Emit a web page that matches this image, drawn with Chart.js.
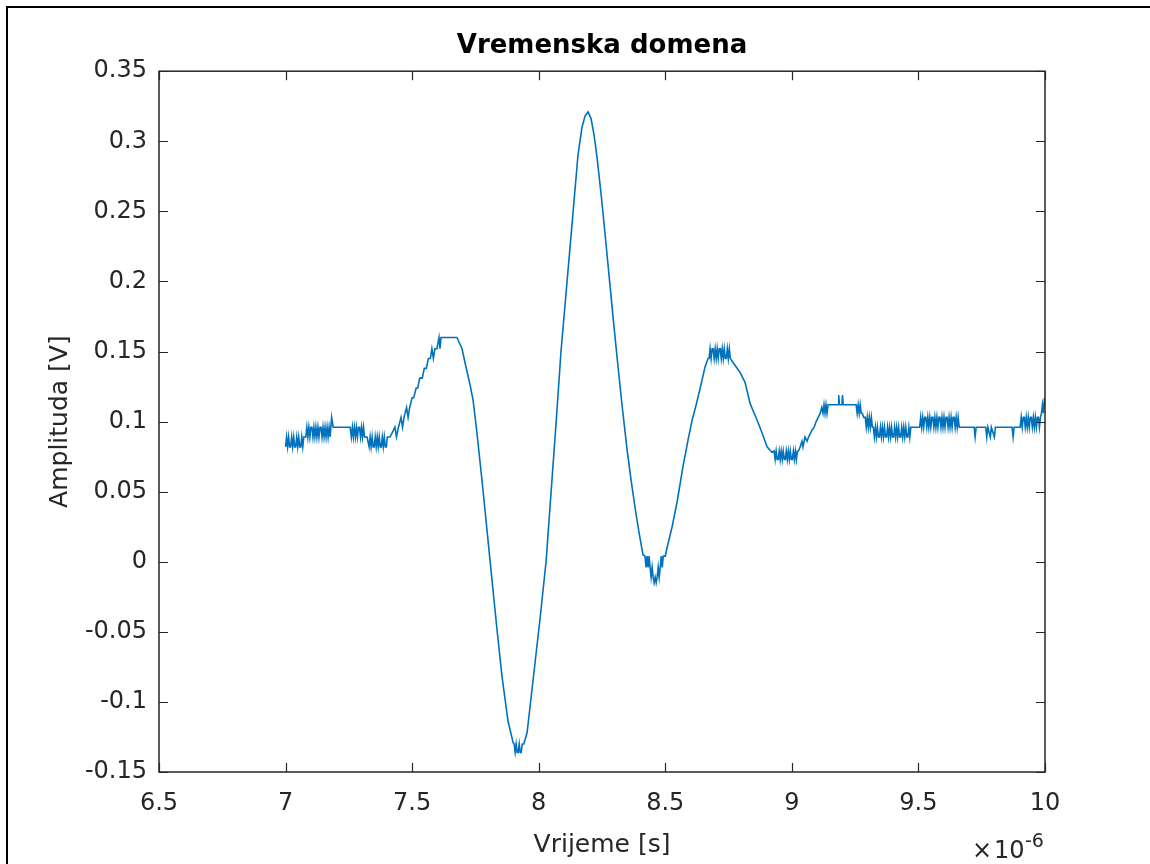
<!DOCTYPE html>
<html>
<head>
<meta charset="utf-8">
<title>Vremenska domena</title>
<script src="https://cdn.jsdelivr.net/npm/chart.js@4.4.0/dist/chart.umd.min.js"></script>
<style>
  html, body { margin: 0; padding: 0; background: #fff; }
  canvas { display: block; }
</style>
</head>
<body>
<canvas id="signal-chart" width="1150" height="864"></canvas>
<script>
// time in microseconds (axis shows x10^-6 s), amplitude in volts
const timeUs = [
  7.000, 7.004, 7.008, 7.012, 7.016, 7.020, 7.024, 7.028, 7.032, 7.036,
  7.040, 7.044, 7.048, 7.052, 7.056, 7.060, 7.064, 7.068, 7.072, 7.076,
  7.080, 7.084, 7.088, 7.092, 7.096, 7.100, 7.104, 7.108, 7.112, 7.116,
  7.120, 7.124, 7.128, 7.132, 7.136, 7.140, 7.144, 7.148, 7.152, 7.156,
  7.160, 7.164, 7.168, 7.172, 7.176, 7.182, 7.188, 7.255,
  7.260, 7.264, 7.268, 7.272, 7.276, 7.280, 7.284, 7.288, 7.292, 7.296,
  7.300, 7.304, 7.308, 7.312, 7.316, 7.322,
  7.330, 7.334, 7.338, 7.342, 7.346, 7.350, 7.354, 7.358, 7.362, 7.366,
  7.370, 7.374, 7.378, 7.382, 7.386, 7.390, 7.394, 7.398, 7.402, 7.406,
  7.413, 7.432, 7.438,
  7.446, 7.456, 7.462, 7.468, 7.478, 7.484, 7.490, 7.500, 7.506, 7.516,
  7.522, 7.530, 7.540, 7.548, 7.556, 7.564, 7.572, 7.578, 7.584, 7.590,
  7.598, 7.606, 7.610, 7.614,
  7.677, 7.697, 7.709, 7.729, 7.741, 7.756, 7.776, 7.796, 7.816, 7.835, 7.855, 7.879, 7.899,
  7.903, 7.907, 7.911, 7.915, 7.919, 7.923, 7.927, 7.931, 7.935, 7.941,
  7.954, 7.978, 8.005, 8.029, 8.049, 8.069, 8.088, 8.112, 8.136, 8.155, 8.171, 8.183,
  8.195, 8.207, 8.219, 8.230, 8.246, 8.262, 8.278, 8.294, 8.310, 8.329, 8.349, 8.365,
  8.381, 8.397, 8.412, 8.420, 8.424, 8.428, 8.432, 8.436, 8.440, 8.444,
  8.448, 8.452, 8.456, 8.460, 8.464, 8.468, 8.472, 8.476, 8.480, 8.484,
  8.488, 8.492, 8.500, 8.507, 8.527, 8.547, 8.570,
  8.590, 8.606, 8.622, 8.638, 8.657, 8.669,
  8.673, 8.677, 8.681, 8.685, 8.689, 8.693, 8.697, 8.701, 8.705, 8.709,
  8.713, 8.717, 8.721, 8.725, 8.729, 8.733, 8.737, 8.741, 8.745, 8.749,
  8.753, 8.757,
  8.768, 8.784, 8.796, 8.815, 8.835, 8.851, 8.863, 8.882, 8.902, 8.922,
  8.930, 8.934, 8.938, 8.942, 8.946, 8.950, 8.954, 8.958, 8.962, 8.966,
  8.970, 8.974, 8.978, 8.982, 8.986, 8.990, 8.994, 8.998, 9.002, 9.006,
  9.010, 9.014, 9.018, 9.022, 9.026,
  9.033, 9.040, 9.044, 9.052, 9.060, 9.066, 9.080, 9.088, 9.096, 9.104, 9.112, 9.118,
  9.123, 9.127, 9.131, 9.135, 9.139, 9.143, 9.147, 9.155, 9.170, 9.183, 9.185, 9.188, 9.198, 9.200, 9.203, 9.228,
  9.254, 9.258, 9.262, 9.266, 9.270, 9.274, 9.278, 9.284, 9.290, 9.294, 9.298, 9.302, 9.306, 9.310, 9.314, 9.318, 9.322,
  9.326, 9.330, 9.334, 9.338, 9.342, 9.346, 9.350, 9.354, 9.358, 9.362,
  9.366, 9.370, 9.374, 9.378, 9.382, 9.386, 9.390, 9.394, 9.398, 9.402,
  9.406, 9.410, 9.414, 9.418, 9.422, 9.426, 9.430, 9.434, 9.438, 9.442,
  9.446, 9.450, 9.454, 9.458, 9.462, 9.466, 9.470, 9.474,
  9.480, 9.505,
  9.509, 9.513, 9.517, 9.521, 9.525, 9.529, 9.533, 9.537, 9.541, 9.545,
  9.549, 9.553, 9.557, 9.561, 9.565, 9.569, 9.573, 9.577, 9.581, 9.585,
  9.589, 9.593, 9.597, 9.601, 9.605, 9.609, 9.613, 9.617, 9.621, 9.625,
  9.629, 9.633, 9.637, 9.641, 9.645, 9.649, 9.653, 9.657, 9.661, 9.665,
  9.672, 9.720, 9.724, 9.728, 9.766, 9.770, 9.774, 9.784, 9.788, 9.800, 9.804, 9.870, 9.874, 9.878, 9.900,
  9.902, 9.906, 9.910, 9.914, 9.918, 9.922, 9.926, 9.930, 9.934, 9.938,
  9.942, 9.946, 9.950, 9.954, 9.958, 9.962, 9.966, 9.970, 9.974, 9.978,
  9.982, 9.986, 9.990, 9.994, 9.998, 10.000
];

const amplitude = [
  0.082, 0.089, 0.082, 0.089, 0.082, 0.082, 0.089, 0.082, 0.089, 0.082,
  0.082, 0.089, 0.082, 0.089, 0.082, 0.082, 0.089, 0.082, 0.089, 0.089,
  0.089, 0.096, 0.089, 0.096, 0.089, 0.096, 0.096, 0.089, 0.096, 0.089,
  0.096, 0.089, 0.096, 0.089, 0.096, 0.096, 0.089, 0.096, 0.089, 0.096,
  0.089, 0.096, 0.089, 0.096, 0.089, 0.103, 0.096, 0.096,
  0.089, 0.096, 0.089, 0.096, 0.089, 0.096, 0.089, 0.096, 0.096, 0.089,
  0.096, 0.089, 0.096, 0.089, 0.089, 0.089,
  0.082, 0.089, 0.082, 0.089, 0.082, 0.082, 0.089, 0.082, 0.089, 0.082,
  0.089, 0.082, 0.082, 0.089, 0.082, 0.089, 0.082, 0.082, 0.089, 0.089,
  0.089, 0.096, 0.089,
  0.096, 0.103, 0.096, 0.103, 0.110, 0.103, 0.110, 0.117, 0.117, 0.124,
  0.124, 0.131, 0.131, 0.138, 0.138, 0.145, 0.145, 0.152, 0.145, 0.152,
  0.152, 0.160, 0.152, 0.160,
  0.160, 0.152, 0.142, 0.126, 0.115, 0.092, 0.058, 0.022, -0.014, -0.048, -0.082, -0.114, -0.129,
  -0.130, -0.136, -0.130, -0.136, -0.136, -0.130, -0.136, -0.136, -0.130, -0.130,
  -0.122, -0.084, -0.041, 0.000, 0.050, 0.100, 0.150, 0.200, 0.250, 0.290, 0.310, 0.318,
  0.321, 0.316, 0.304, 0.289, 0.263, 0.234, 0.204, 0.174, 0.145, 0.112, 0.080, 0.058,
  0.038, 0.020, 0.005, 0.004, -0.004, 0.004, -0.004, 0.004, -0.004, -0.011,
  -0.004, -0.011, -0.015, -0.011, -0.015, -0.011, -0.004, -0.011, -0.004, 0.004,
  -0.004, 0.004, 0.004, 0.010, 0.025, 0.043, 0.068,
  0.087, 0.101, 0.112, 0.124, 0.139, 0.145,
  0.145, 0.152, 0.145, 0.152, 0.152, 0.145, 0.152, 0.145, 0.152, 0.145,
  0.152, 0.152, 0.145, 0.152, 0.145, 0.152, 0.145, 0.145, 0.152, 0.145,
  0.152, 0.145,
  0.142, 0.138, 0.135, 0.128, 0.113, 0.106, 0.101, 0.092, 0.082, 0.078,
  0.079, 0.073, 0.079, 0.073, 0.073, 0.079, 0.073, 0.079, 0.073, 0.079,
  0.073, 0.073, 0.079, 0.073, 0.079, 0.073, 0.079, 0.073, 0.073, 0.079,
  0.073, 0.079, 0.073, 0.079, 0.079,
  0.082, 0.086, 0.082, 0.089, 0.086, 0.089, 0.094, 0.096, 0.100, 0.103, 0.106, 0.110,
  0.106, 0.112, 0.106, 0.112, 0.106, 0.112, 0.112, 0.112, 0.112, 0.112, 0.119, 0.112, 0.112, 0.119, 0.112, 0.112,
  0.112, 0.106, 0.112, 0.106, 0.112, 0.106, 0.106, 0.103, 0.103, 0.096, 0.103, 0.096, 0.103, 0.096, 0.103, 0.096, 0.096,
  0.089, 0.096, 0.089, 0.096, 0.089, 0.089, 0.096, 0.089, 0.096, 0.089,
  0.096, 0.089, 0.089, 0.096, 0.089, 0.096, 0.089, 0.096, 0.089, 0.089,
  0.096, 0.089, 0.096, 0.089, 0.096, 0.089, 0.089, 0.096, 0.089, 0.096,
  0.089, 0.096, 0.089, 0.089, 0.096, 0.089, 0.096, 0.096,
  0.096, 0.096,
  0.103, 0.096, 0.103, 0.096, 0.103, 0.103, 0.096, 0.103, 0.096, 0.103,
  0.096, 0.103, 0.103, 0.096, 0.103, 0.096, 0.103, 0.096, 0.103, 0.103,
  0.096, 0.103, 0.096, 0.103, 0.096, 0.103, 0.103, 0.096, 0.103, 0.096,
  0.103, 0.096, 0.103, 0.103, 0.096, 0.103, 0.096, 0.103, 0.096, 0.096,
  0.096, 0.096, 0.089, 0.096, 0.096, 0.089, 0.096, 0.089, 0.096, 0.089, 0.096, 0.096, 0.089, 0.096, 0.096,
  0.096, 0.103, 0.096, 0.103, 0.103, 0.096, 0.103, 0.096, 0.103, 0.096,
  0.103, 0.103, 0.096, 0.103, 0.096, 0.103, 0.096, 0.103, 0.103, 0.096,
  0.103, 0.106, 0.112, 0.106, 0.117, 0.112
];

const xTickValues = [6.5, 7, 7.5, 8, 8.5, 9, 9.5, 10];
const yTickValues = [-0.15, -0.1, -0.05, 0, 0.05, 0.1, 0.15, 0.2, 0.25, 0.3, 0.35];

const axisColor = '#262626';
const tickLen = 9;

Chart.defaults.font.family = '"DejaVu Sans", sans-serif';

// matlab style: frame round the figure, box round the axes, ticks pointing inward, x10^-6 note
const matlabBox = {
  id: 'matlabBox',
  beforeDraw(chart) {
    const ctx = chart.ctx;
    ctx.save();
    ctx.fillStyle = '#fff';
    ctx.fillRect(0, 0, chart.width, chart.height);
    ctx.fillStyle = '#000';
    ctx.fillRect(6, 6, chart.width - 6, 2);
    ctx.fillRect(6, 6, 2, chart.height - 6);
    ctx.restore();
  },
  afterDraw(chart) {
    const {ctx, chartArea: a, scales} = chart;
    ctx.save();
    ctx.strokeStyle = axisColor;
    ctx.lineWidth = 1.5;
    ctx.strokeRect(a.left, a.top, a.right - a.left, a.bottom - a.top);

    ctx.beginPath();
    scales.x.ticks.forEach(t => {
      const px = Math.round(scales.x.getPixelForValue(t.value)) + 0.5;
      ctx.moveTo(px, a.bottom); ctx.lineTo(px, a.bottom - tickLen);
      ctx.moveTo(px, a.top); ctx.lineTo(px, a.top + tickLen);
    });
    scales.y.ticks.forEach(t => {
      const py = Math.round(scales.y.getPixelForValue(t.value)) + 0.5;
      ctx.moveTo(a.left, py); ctx.lineTo(a.left + tickLen, py);
      ctx.moveTo(a.right, py); ctx.lineTo(a.right - tickLen, py);
    });
    ctx.lineWidth = 1.2;
    ctx.stroke();

    const x0 = a.right - 73;
    ctx.fillStyle = axisColor;
    ctx.textAlign = 'left';
    ctx.textBaseline = 'alphabetic';
    ctx.font = '24px "DejaVu Sans", sans-serif';
    ctx.fillText('\u00d7', x0, 858);
    ctx.fillText('10', x0 + 22, 858);
    ctx.font = '19px "DejaVu Sans", sans-serif';
    ctx.fillText('-6', x0 + 53, 847);
    ctx.restore();
  }
};

const renderChart = () => {
  const canvas = document.getElementById('signal-chart');

  new Chart(canvas, {
    type: 'line',
    data: {
      datasets: [
        {
          label: 'Signal',
          data: timeUs.map((t, i) => ({ x: t, y: amplitude[i] })),
          borderColor: '#0072BD',
          borderWidth: 1.6,
          pointRadius: 0,
          tension: 0,
          fill: false,
        },
      ],
    },
    options: {
      responsive: false,
      animation: false,
      layout: { padding: { top: 0, left: 0, right: 105, bottom: 0 } },
      plugins: {
        legend: { display: false },
        tooltip: { enabled: false },
        title: {
          display: true,
          text: 'Vremenska domena',
          fullSize: false,
          color: '#000',
          font: { size: 26, weight: 'bold' },
          padding: { top: 31, bottom: 9 },
        },
      },
      scales: {
        x: {
          type: 'linear',
          position: 'bottom',
          min: xTickValues[0],
          max: xTickValues[xTickValues.length - 1],
          afterBuildTicks: (scale) => { scale.ticks = xTickValues.map(v => ({ value: v })); },
          afterFit: (scale) => { scale.height = 92; },
          grid: { display: false, drawTicks: false },
          border: { display: false },
          ticks: {
            color: axisColor,
            font: { size: 24 },
            padding: 17,
            autoSkip: false,
            maxRotation: 0,
            callback: (v) => String(Math.round(v * 10) / 10),
          },
          title: {
            display: true,
            text: 'Vrijeme [s]',
            color: axisColor,
            font: { size: 25 },
            padding: { top: 0, bottom: 4 },
          },
        },
        y: {
          position: 'left',
          min: yTickValues[0],
          max: yTickValues[yTickValues.length - 1],
          afterBuildTicks: (scale) => { scale.ticks = yTickValues.map(v => ({ value: v })); },
          afterFit: (scale) => { scale.width = 159; },
          grid: { display: false, drawTicks: false },
          border: { display: false },
          ticks: {
            color: axisColor,
            font: { size: 24 },
            padding: 12,
            autoSkip: false,
            callback: (v) => String(Math.round(v * 100) / 100),
          },
          title: {
            display: true,
            text: 'Amplituda [V]',
            color: axisColor,
            font: { size: 25 },
            padding: { top: 45, bottom: 0 },
          },
        },
      },
    },
    plugins: [matlabBox],
  });
};

renderChart();
</script>
</body>
</html>
